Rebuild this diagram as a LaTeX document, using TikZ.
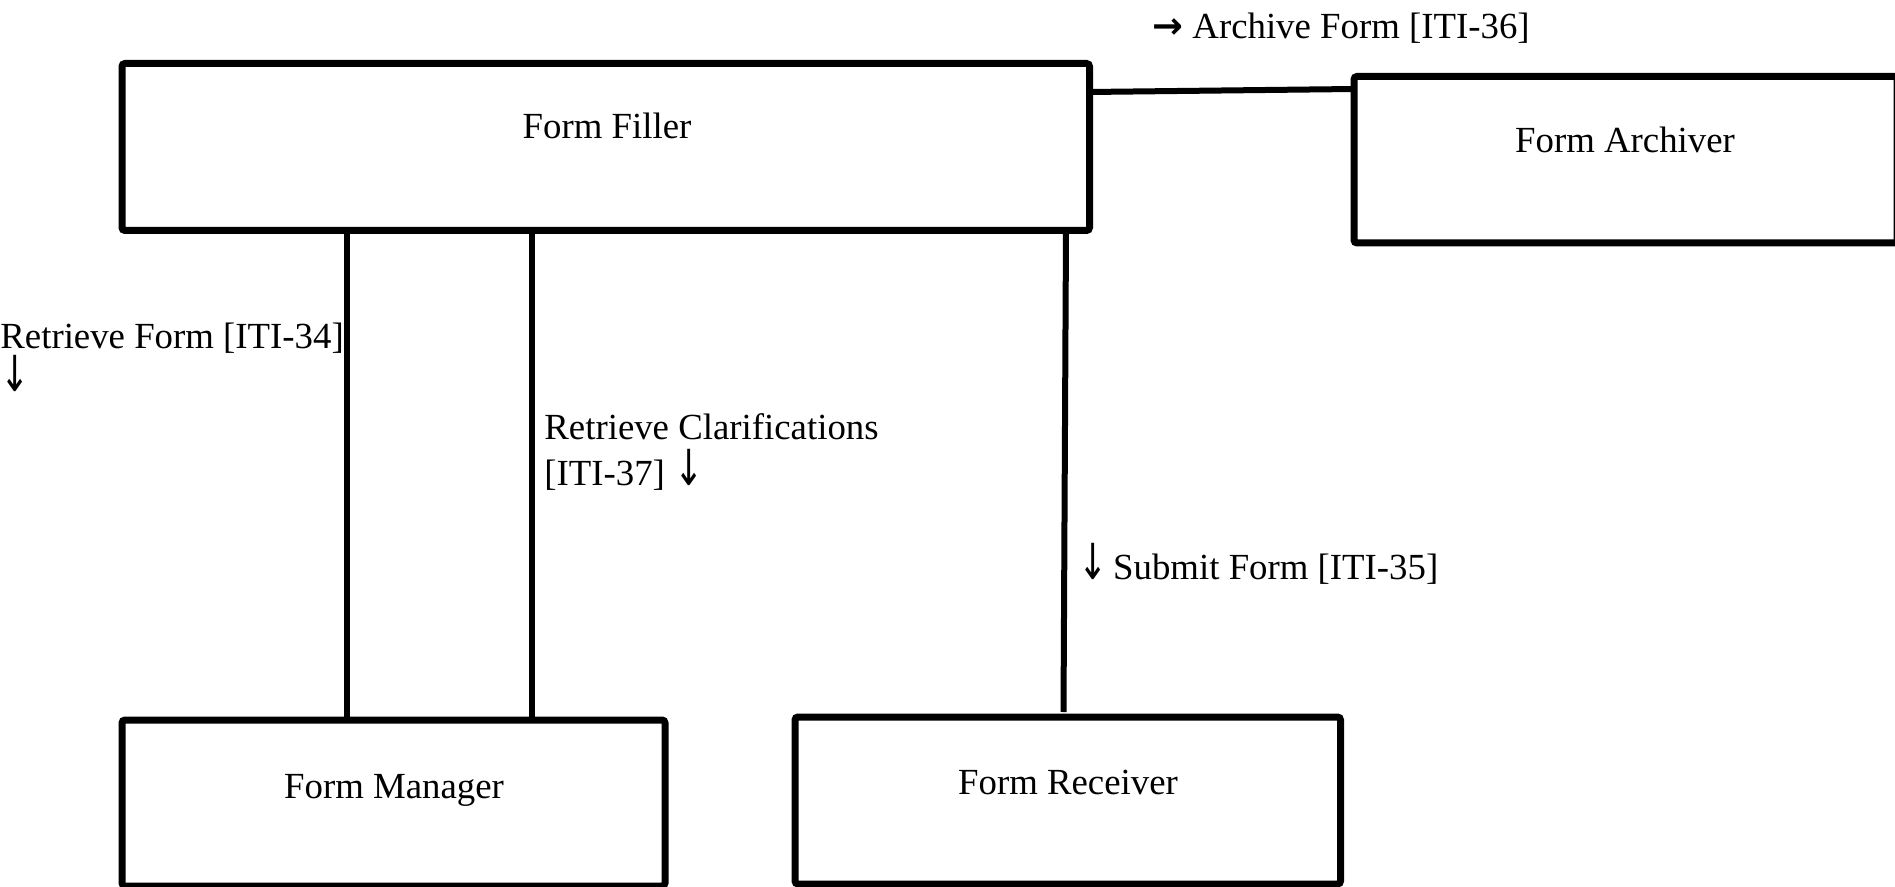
\documentclass[tikz,border=0pt]{standalone}
\usepackage{fontspec}
\setmainfont{Liberation Serif}
\newfontfamily\arrowfont{DejaVu Sans}
\newcommand{\dnarrow}{\scalebox{0.95}[1.35]{\arrowfont ↓}}
\newcommand{\rtarrow}{{\arrowfont\bfseries →}}
\begin{document}
\begin{tikzpicture}[x=0.5pt, y=-0.5pt,
  actor/.style={draw, line width=3.5pt, rounded corners=1.5pt, inner sep=0pt, outer sep=0pt},
  translink/.style={line width=3pt},
  translabel/.style={inner sep=0pt, anchor=base west, font=\fontsize{18.4pt}{22pt}\selectfont, align=left},
  actorlabel/.style={inner sep=0pt, anchor=base, font=\fontsize{18.4pt}{22pt}\selectfont}]
  \useasboundingbox (0,0) rectangle (1895,887);
  \clip (0,0) rectangle (1895,887);

  % actor boxes
  \node[actor, minimum width=483.75pt, minimum height=83.5pt] (filler) at (605.75,147) {};
  \node[actor, minimum width=271.5pt, minimum height=83.25pt] (archiver) at (1625.5,159.75) {};
  \node[actor, minimum width=271.5pt, minimum height=83pt] (manager) at (393.5,803) {};
  \node[actor, minimum width=272.75pt, minimum height=83.5pt] (receiver) at (1067.75,800.5) {};

  % box labels
  \node[actorlabel] (fillerlbl) at (607,139) {Form Filler};
  \node[actorlabel] (archiverlbl) at (1625,153) {Form Archiver};
  \node[actorlabel] (managerlbl) at (394,798) {Form Manager};
  \node[actorlabel] (receiverlbl) at (1068,794) {Form Receiver};

  % transactions
  \draw[translink] (filler.north east |- 0,92) -- (archiver.north west |- 0,89);
  \draw[translink] (filler.south -| 346.5,0) -- (manager.north -| 346.5,0);
  \draw[translink] (filler.south -| 532,0) -- (manager.north -| 532,0);
  \draw[translink] (filler.south -| 1066,0) -- (1063.5,712) coordinate (rcvtop);

  % transaction labels (base anchor sits on the last line)
  \node[translabel] (iti36) at (1152,39) {\rtarrow\ Archive Form [ITI-36]};
  \node[translabel, font=\fontsize{18.4pt}{21.5pt}\selectfont] (iti34) at (0,392) {Retrieve Form [ITI-34]\\\dnarrow};
  \node[translabel, font=\fontsize{18.4pt}{23pt}\selectfont] (iti37) at (544,486) {Retrieve Clarifications\\{}[ITI-37] \dnarrow};
  \node[translabel] (iti35) at (1078,579) {\dnarrow\hspace{0.15em}Submit Form [ITI-35]};
\end{tikzpicture}
\end{document}
